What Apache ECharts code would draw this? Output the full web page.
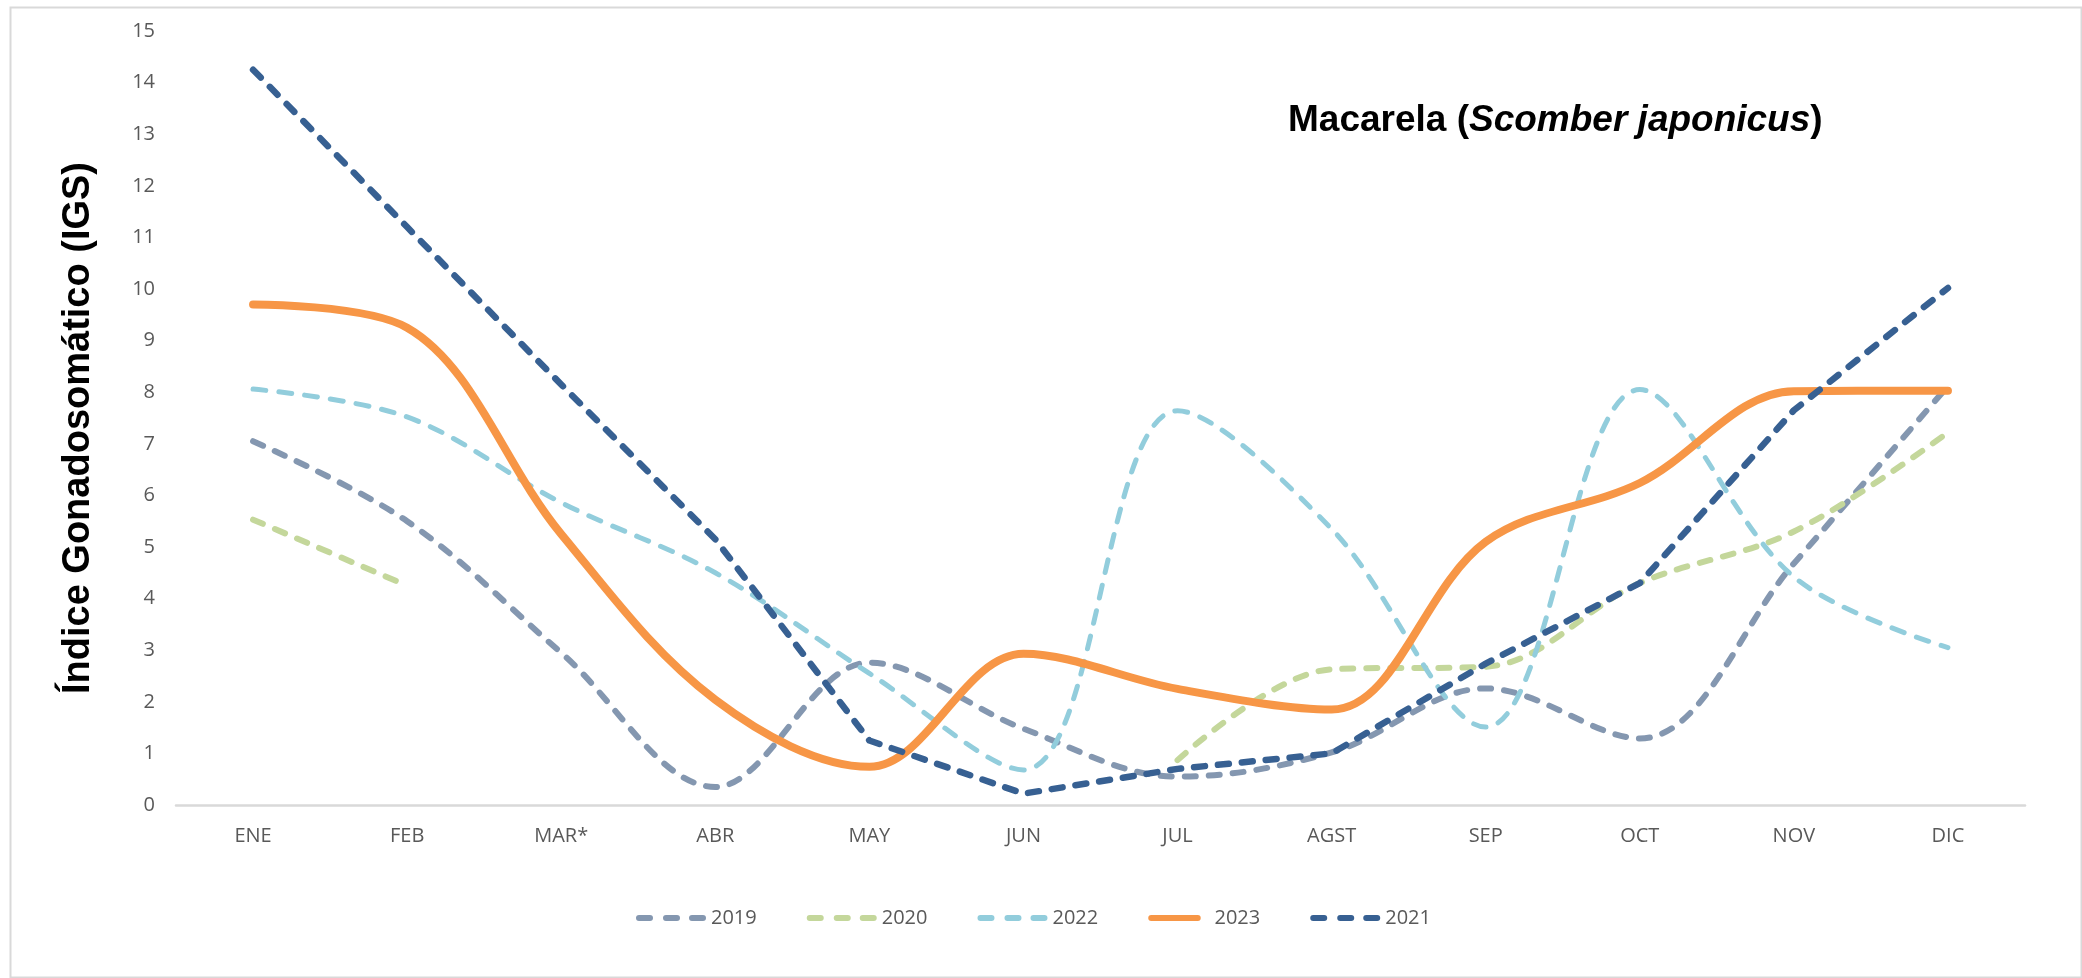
<!DOCTYPE html>
<html>
<head>
<meta charset="utf-8">
<title>Macarela (Scomber japonicus) – Índice Gonadosomático</title>
<script src="https://cdn.jsdelivr.net/npm/echarts@6/dist/echarts.min.js"></script>
<style>
  html, body { margin: 0; padding: 0; background: #ffffff; }
  #chart { width: 2082px; height: 978px; }
</style>
</head>
<body>
<div id="chart"></div>
<script>
// Months (March marked with an asterisk)
const months = ['ENE', 'FEB', 'MAR*', 'ABR', 'MAY', 'JUN', 'JUL', 'AGST', 'SEP', 'OCT', 'NOV', 'DIC'];

// Monthly gonadosomatic index per year
const igs2019 = [7.05, 5.5, 2.95, 0.35, 2.76, 1.48, 0.55, 1.02, 2.26, 1.29, 4.68, 8.12];
const igs2020 = [5.53, 4.25, null, null, null, null, 0.87, 2.63, 2.68, 4.3, 5.3, 7.22];
const igs2022 = [8.06, 7.52, 5.86, 4.5, 2.55, 0.68, 7.64, 5.35, 1.51, 8.05, 4.42, 3.05];
const igs2023 = [9.7, 9.25, 5.25, 2.04, 0.74, 2.93, 2.25, 1.85, 5.1, 6.24, 8.02, 8.03];
const igs2021 = [14.25, 11.2, 8.15, 5.15, 1.25, 0.22, 0.7, 1.0, 2.74, 4.3, 7.65, 10.02];

const tickFont = 'Open Sans';
const labelColor = '#595959';
const axisGray = '#D9D9D9';

// Legend keys: three rounded dashes, or one solid rounded bar
const dashIcon = 'path://M3,0h11a3,3 0 0 1 0,6h-11a3,3 0 0 1 0,-6z' +
                 'M30,0h11a3,3 0 0 1 0,6h-11a3,3 0 0 1 0,-6z' +
                 'M56,0h11a3,3 0 0 1 0,6h-11a3,3 0 0 1 0,-6z';
const solidIcon = 'path://M4,0h62a4,4 0 0 1 0,8h-62a4,4 0 0 1 0,-8z';

function lineSeries(name, data, color, width, smooth, dash) {
  return {
    name: name,
    type: 'line',
    data: data,
    smooth: smooth,
    symbol: 'none',
    connectNulls: false,
    lineStyle: {
      color: color,
      width: width,
      type: dash || 'solid',
      cap: 'round',
      join: 'round'
    },
    itemStyle: { color: color },
    emphasis: { disabled: true }
  };
}

const chart = echarts.init(document.getElementById('chart'), null, { renderer: 'canvas' });

chart.setOption({
  backgroundColor: '#ffffff',
  animation: false,
  title: {
    text: '{b|Macarela (}{i|Scomber japonicus}{b|)}',
    left: 1288,
    top: 102,
    padding: 0,
    textStyle: {
      rich: {
        b: { fontFamily: 'Liberation Sans', fontWeight: 'bold', fontSize: 37, color: '#000000' },
        i: { fontFamily: 'Liberation Sans', fontWeight: 'bold', fontStyle: 'italic', fontSize: 37, color: '#000000' }
      }
    }
  },
  legend: {
    data: [
      { name: '2019', icon: dashIcon },
      { name: '2020', icon: dashIcon },
      { name: '2022', icon: dashIcon },
      { name: '2023', icon: solidIcon, itemStyle: {} },
      { name: '2021', icon: dashIcon }
    ],
    left: 631,
    top: 903,
    itemWidth: 70,
    itemHeight: 6,
    itemGap: 50,
    textStyle: { fontFamily: tickFont, fontSize: 20, color: labelColor },
    selectedMode: false
  },
  grid: { left: 176, right: 57, top: 31, bottom: 173, containLabel: false },
  xAxis: {
    type: 'category',
    data: months,
    boundaryGap: true,
    axisLine: { show: true, lineStyle: { color: axisGray, width: 2.5 } },
    axisTick: { show: false },
    splitLine: { show: false },
    axisLabel: { fontFamily: tickFont, fontSize: 20, color: labelColor, margin: 21, interval: 0 }
  },
  yAxis: {
    type: 'value',
    min: 0,
    max: 15,
    interval: 1,
    name: 'Índice Gonadosomático (IGS)',
    nameLocation: 'middle',
    nameGap: 78,
    nameTextStyle: {
      fontFamily: 'Liberation Sans', fontWeight: 'bold', fontSize: 38, color: '#000000',
      padding: [0, 20, 0, 0]
    },
    axisLine: { show: false },
    axisTick: { show: false },
    splitLine: { show: false },
    axisLabel: { fontFamily: tickFont, fontSize: 20, color: labelColor, margin: 21 }
  },
  graphic: [{
    type: 'rect',
    left: 8,
    top: 5,
    shape: { x: 0, y: 0, width: 2071, height: 970 },
    style: { fill: 'none', stroke: axisGray, lineWidth: 2 },
    silent: true,
    z: -10
  }],
  series: [
    lineSeries('2019', igs2019, '#8497B0', 6, 0.35, [11, 13]),
    lineSeries('2020', igs2020, '#C4D79B', 6, 0.35, [11, 13]),
    lineSeries('2022', igs2022, '#92CDDC', 5, 0.35, [13, 13]),
    lineSeries('2023', igs2023, '#F79646', 8, 0.35, null),
    lineSeries('2021', igs2021, '#376092', 6.5, false, [11, 13])
  ]
});
</script>
</body>
</html>
